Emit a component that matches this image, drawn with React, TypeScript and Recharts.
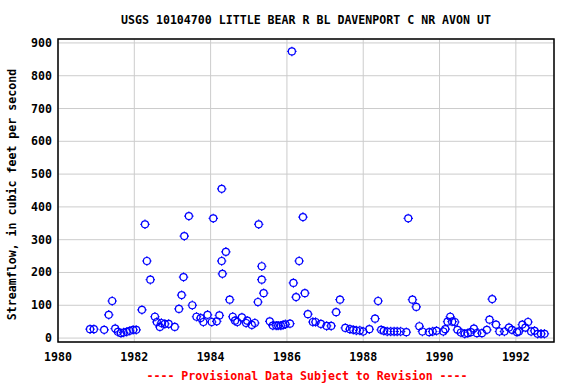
import { CartesianGrid, Scatter, ScatterChart, XAxis, YAxis } from "recharts";

const TITLE = "USGS 10104700 LITTLE BEAR R BL DAVENPORT C NR AVON UT";
const Y_LABEL = "Streamflow, in cubic feet per second";
const FOOTER = "---- Provisional Data Subject to Revision ----";

// decimal year of each measurement
const years = [
  1980.84, 1980.94, 1981.21, 1981.33, 1981.42, 1981.5, 1981.57, 1981.65, 1981.72, 1981.8,
  1981.88, 1981.97, 1982.05, 1982.2, 1982.28, 1982.33, 1982.42, 1982.54, 1982.59, 1982.67,
  1982.71, 1982.8, 1982.9, 1983.06, 1983.17, 1983.24, 1983.29, 1983.31, 1983.43, 1983.52,
  1983.63, 1983.74, 1983.81, 1983.92, 1984.03, 1984.07, 1984.16, 1984.23, 1984.29, 1984.29,
  1984.31, 1984.4, 1984.5, 1984.58, 1984.64, 1984.7, 1984.82, 1984.93, 1984.96, 1985.08,
  1985.16, 1985.24, 1985.26, 1985.34, 1985.34, 1985.39, 1985.55, 1985.63, 1985.72, 1985.77,
  1985.84, 1985.9, 1985.96, 1986.08, 1986.13, 1986.17, 1986.24, 1986.32, 1986.42, 1986.47,
  1986.55, 1986.68, 1986.75, 1986.89, 1987.04, 1987.16, 1987.29, 1987.39, 1987.53, 1987.65,
  1987.74, 1987.82, 1987.91, 1988.0, 1988.16, 1988.31, 1988.39, 1988.47, 1988.54, 1988.63,
  1988.72, 1988.81, 1988.89, 1988.98, 1989.13, 1989.18, 1989.29, 1989.39, 1989.47, 1989.55,
  1989.73, 1989.82, 1989.92, 1990.1, 1990.15, 1990.21, 1990.28, 1990.33, 1990.4, 1990.47,
  1990.56, 1990.66, 1990.74, 1990.82, 1990.9, 1990.98, 1991.11, 1991.24, 1991.31, 1991.38,
  1991.48, 1991.57, 1991.7, 1991.82, 1991.9, 1992.03, 1992.08, 1992.17, 1992.25, 1992.32,
  1992.4, 1992.49, 1992.57, 1992.66, 1992.75,
];

// streamflow, cfs
const flows = [
  27, 27, 25, 71, 113, 29, 19, 15, 17, 19,
  22, 25, 25, 86, 347, 235, 178, 65, 49, 34,
  46, 43, 43, 34, 89, 131, 186, 311, 372, 100,
  65, 61, 49, 71, 49, 365, 51, 69, 455, 235,
  196, 263, 117, 65, 53, 49, 63, 46, 53, 40,
  46, 110, 347, 219, 178, 137, 51, 38, 38, 38,
  38, 40, 42, 44, 874, 168, 125, 235, 369, 137,
  73, 49, 49, 43, 37, 37, 79, 117, 31, 27,
  25, 23, 23, 20, 27, 59, 113, 25, 22, 20,
  20, 20, 20, 20, 18, 365, 117, 95, 36, 20,
  18, 20, 22, 20, 27, 50, 65, 50, 49, 25,
  17, 13, 15, 18, 29, 15, 15, 25, 56, 119,
  41, 20, 20, 32, 25, 18, 20, 41, 32, 49,
  20, 22, 13, 13, 13,
];

const xTicks = [1980, 1982, 1984, 1986, 1988, 1990, 1992];
const yTicks = [0, 100, 200, 300, 400, 500, 600, 700, 800, 900];

const data = years.map((t, i) => ({ t, q: flows[i] }));

const FONT = "'DejaVu Sans Mono', monospace";
const FS = 11.6;
const W = 576;
const H = 384;
const LEFT = 58;
const RIGHT = 554;
const TOP = 39;
const BOTTOM = 342;

function Marker(props: any) {
  const { cx, cy } = props;
  if (cx == null || cy == null) return null;
  const r = 3.5;
  return (
    <g stroke="#0000ff" strokeWidth={1.2} fill="none">
      <circle cx={cx} cy={cy} r={r} />
      <line x1={cx} y1={cy - r - 1.2} x2={cx} y2={cy - r} />
      <line x1={cx} y1={cy + r} x2={cx} y2={cy + r + 1.2} />
      <line x1={cx - r - 1.2} y1={cy} x2={cx - r} y2={cy} />
      <line x1={cx + r} y1={cy} x2={cx + r + 1.2} y2={cy} />
    </g>
  );
}

function XTick(props: any) {
  const { x, payload } = props;
  return (
    <text x={x} y={BOTTOM + 19} textAnchor="middle" fontFamily={FONT} fontWeight="bold" fontSize={FS} fill="#000">
      {payload.value}
    </text>
  );
}

function YTick(props: any) {
  const { y, payload } = props;
  return (
    <text x={52} y={y + 4} textAnchor="end" fontFamily={FONT} fontWeight="bold" fontSize={FS} fill="#000">
      {payload.value}
    </text>
  );
}

export default function App() {
  return (
    <div style={{ position: "relative", width: W, height: H, background: "#fff" }}>
      <style>{"body{margin:0}"}</style>
      <ScatterChart
        width={W}
        height={H}
        margin={{ top: TOP, right: W - RIGHT, bottom: 0, left: 0 }}
      >
        <CartesianGrid stroke="#cccccc" strokeWidth={1} />
        <XAxis
          type="number"
          dataKey="t"
          domain={[1980, 1993]}
          ticks={xTicks}
          height={H - BOTTOM}
          tick={<XTick />}
          tickLine={false}
          axisLine={false}
          interval={0}
        />
        <YAxis
          type="number"
          dataKey="q"
          domain={[-12, 912]}
          ticks={yTicks}
          width={LEFT}
          tick={<YTick />}
          tickLine={false}
          axisLine={false}
          interval={0}
        />
        <Scatter data={data} shape={<Marker />} isAnimationActive={false} />
      </ScatterChart>
      <svg
        width={W}
        height={H}
        style={{ position: "absolute", left: 0, top: 0, pointerEvents: "none" }}
      >
        <rect x={LEFT} y={TOP} width={RIGHT - LEFT} height={BOTTOM - TOP} fill="none" stroke="#000" strokeWidth={1.5} />
        <text x={(LEFT + RIGHT) / 2} y={24} textAnchor="middle" fontFamily={FONT} fontWeight="bold" fontSize={FS} fill="#000">
          {TITLE}
        </text>
        <text
          transform={`translate(16, ${(TOP + BOTTOM) / 2 + 4}) rotate(-90)`}
          textAnchor="middle"
          fontFamily={FONT}
          fontWeight="bold"
          fontSize={FS}
          fill="#000"
        >
          {Y_LABEL}
        </text>
        <text x={(LEFT + RIGHT) / 2 + 1} y={380} textAnchor="middle" fontFamily={FONT} fontWeight="bold" fontSize={FS} fill="#ff0000">
          {FOOTER}
        </text>
      </svg>
    </div>
  );
}
